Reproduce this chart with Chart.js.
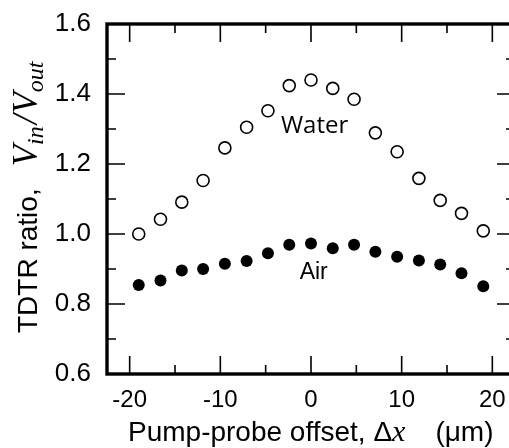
<!DOCTYPE html>
<html>
<head>
<meta charset="utf-8">
<script src="https://cdn.jsdelivr.net/npm/chart.js@4/dist/chart.umd.min.js"></script>
<style>
  html, body { margin: 0; padding: 0; background: #fff; overflow: hidden; }
  #wrap { width: 509px; height: 448px; overflow: hidden; }
</style>
</head>
<body>
<div id="wrap"><canvas id="tdtrChart" width="530" height="448"></canvas></div>
<script>
// pump-probe offset (um)
const offsets = [-19, -16.6, -14.25, -11.9, -9.5, -7.1, -4.75, -2.4, 0, 2.4, 4.75, 7.1, 9.5, 11.9, 14.25, 16.6, 19];
// TDTR ratio Vin/Vout
const water = [1.000, 1.042, 1.091, 1.153, 1.246, 1.305, 1.352, 1.424, 1.440, 1.416, 1.385, 1.289, 1.235, 1.159, 1.096, 1.059, 1.009];
const air = [0.854, 0.867, 0.896, 0.900, 0.915, 0.923, 0.945, 0.969, 0.973, 0.959, 0.969, 0.949, 0.935, 0.924, 0.913, 0.888, 0.851];

const xTicks = [-20, -10, 0, 10, 20];
const xTickLabels = ['-20', '-10', '0', '10', '20'];
const xMinor = [-15, -5, 5, 15];
const yTicks = [0.6, 0.8, 1.0, 1.2, 1.4, 1.6];
const yTickLabels = ['0.6', '0.8', '1.0', '1.2', '1.4', '1.6'];
const yMinor = [0.7, 0.9, 1.1, 1.3, 1.5];

const SANS = '"Liberation Sans", Arial, Helvetica, sans-serif';
const SERIF = '"Liberation Serif", "Times New Roman", serif';

const toPoints = (ys) => offsets.map((x, i) => ({ x: x, y: ys[i] }));

// draw a row of text pieces [text, font, baselineShift, extraGapAfter], left aligned
function drawPieces(ctx, pieces, x, baseY) {
  ctx.textAlign = 'left';
  ctx.textBaseline = 'alphabetic';
  pieces.forEach((p) => {
    ctx.font = p[1];
    ctx.fillText(p[0], x, baseY + (p[2] || 0));
    x += ctx.measureText(p[0]).width + (p[3] || 0);
  });
}

const framePlugin = {
  id: 'frame',
  afterDatasetsDraw(chart) {
    const ctx = chart.ctx;
    const xs = chart.scales.x, ys = chart.scales.y;
    const a = chart.chartArea;
    ctx.save();
    ctx.strokeStyle = '#000';
    ctx.fillStyle = '#000';

    // ticks pointing inward on all four sides
    ctx.lineWidth = 1.6;
    const tick = (vals, len, horiz) => {
      vals.forEach((v) => {
        ctx.beginPath();
        if (horiz) {
          const p = xs.getPixelForValue(v);
          ctx.moveTo(p, a.bottom); ctx.lineTo(p, a.bottom - len);
          ctx.moveTo(p, a.top); ctx.lineTo(p, a.top + len);
        } else {
          const p = ys.getPixelForValue(v);
          ctx.moveTo(a.left, p); ctx.lineTo(a.left + len, p);
          ctx.moveTo(a.right, p); ctx.lineTo(a.right - len, p);
        }
        ctx.stroke();
      });
    };
    tick(xTicks, 18, true);
    tick(xMinor, 9, true);
    tick(yTicks, 18, false);
    tick(yMinor, 9, false);

    // box
    ctx.lineWidth = 3.4;
    ctx.strokeRect(a.left, a.top, a.right - a.left, a.bottom - a.top);

    // tick labels
    ctx.font = '24px ' + SANS;
    ctx.textAlign = 'center';
    ctx.textBaseline = 'alphabetic';
    xTicks.forEach((v, i) => ctx.fillText(xTickLabels[i], xs.getPixelForValue(v), a.bottom + 33));
    ctx.font = '26px ' + SANS;
    ctx.textAlign = 'right';
    ctx.textBaseline = 'middle';
    yTicks.forEach((v, i) => ctx.fillText(yTickLabels[i], a.left - 16, ys.getPixelForValue(v)));

    // x title
    drawPieces(ctx, [
      ['Pump-probe offset, \u0394', '28px ' + SANS],
      ['x', 'italic 30px ' + SERIF, 0, 30],
      ['(\u03bcm)', '28px ' + SANS],
    ], 128, a.bottom + 67);

    // y title
    ctx.save();
    ctx.translate(37, 0);
    ctx.rotate(-Math.PI / 2);
    drawPieces(ctx, [
      ['TDTR ratio,', '28px ' + SANS, 0, 22],
      ['V', 'italic 35px ' + SERIF],
      ['in', 'italic 24px ' + SERIF, 6, 2],
      ['/', 'italic 35px ' + SERIF, 0, 1],
      ['V', 'italic 35px ' + SERIF],
      ['out', 'italic 24px ' + SERIF, 6],
    ], -333, 0);
    ctx.restore();

    // series labels
    ctx.textAlign = 'center';
    ctx.textBaseline = 'alphabetic';
    ctx.font = '24px "Open Sans", "Noto Sans", sans-serif';
    ctx.fillText('Water', xs.getPixelForValue(0.4), ys.getPixelForValue(1.288));
    ctx.font = '23px ' + SANS;
    ctx.fillText('Air', xs.getPixelForValue(0.3), ys.getPixelForValue(0.871));
    ctx.restore();
  }
};

new Chart(document.getElementById('tdtrChart'), {
  type: 'scatter',
  data: {
    datasets: [
      {
        label: 'Water',
        data: toPoints(water),
        pointStyle: 'circle',
        pointRadius: 6,
        pointBorderWidth: 1.6,
        pointBorderColor: '#000',
        pointBackgroundColor: '#fff',
      },
      {
        label: 'Air',
        data: toPoints(air),
        pointStyle: 'circle',
        pointRadius: 6,
        pointBorderWidth: 0,
        pointBorderColor: '#000',
        pointBackgroundColor: '#000',
      },
    ],
  },
  options: {
    responsive: false,
    animation: false,
    devicePixelRatio: 1,
    layout: { padding: { left: 107, top: 24, right: 15, bottom: 74 } },
    scales: {
      x: { type: 'linear', min: -22.5, max: 22.5, display: false },
      y: { type: 'linear', min: 0.6, max: 1.6, display: false },
    },
    plugins: {
      legend: { display: false },
      tooltip: { enabled: false },
    },
  },
  plugins: [framePlugin],
});
</script>
</body>
</html>
